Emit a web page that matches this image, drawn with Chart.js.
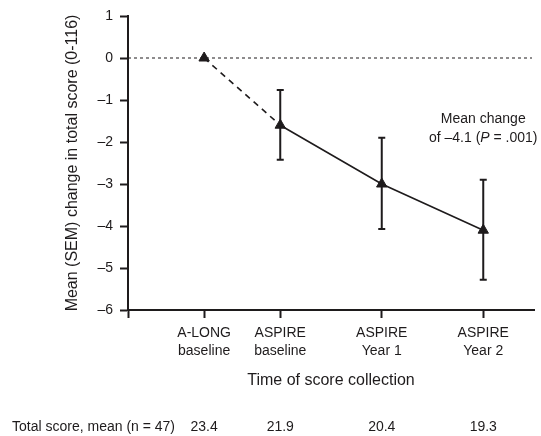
<!DOCTYPE html>
<html>
<head>
<meta charset="utf-8">
<script src="https://cdn.jsdelivr.net/npm/chart.js@4"></script>
<style>
  html, body { margin: 0; padding: 0; background: #fff; }
  #wrap { width: 541px; height: 436px; }
</style>
</head>
<body>
<div id="wrap"><canvas id="changeChart"></canvas></div>
<script>
// time points (years relative to ASPIRE baseline) and their labels
const timeYears = [-0.75, 0, 1, 2];
const timeLabels = [["A-LONG", "baseline"], ["ASPIRE", "baseline"], ["ASPIRE", "Year 1"], ["ASPIRE", "Year 2"]];
const meanChange = [0, -1.6, -3.0, -4.1];
const errLow = [null, -2.42, -4.07, -5.28];
const errHigh = [null, -0.76, -1.9, -2.9];
const totalScores = ["23.4", "21.9", "20.4", "19.3"];
const yTicks = [1, 0, -1, -2, -3, -4, -5, -6];

const ink = "#1e1b1c";
const font = "'Liberation Sans', Arial, sans-serif";
Chart.defaults.font.family = font;
Chart.defaults.color = ink;

const extras = {
    id: "extras",
    beforeDatasetsDraw(chart) {
        const { ctx, chartArea, scales: { x, y } } = chart;
        // dotted reference line at zero
        ctx.save();
        ctx.strokeStyle = ink;
        ctx.lineWidth = 1;
        ctx.setLineDash([3, 3]);
        ctx.beginPath();
        ctx.moveTo(chartArea.left, y.getPixelForValue(0));
        ctx.lineTo(chartArea.right - 2, y.getPixelForValue(0));
        ctx.stroke();
        ctx.restore();
        // error bars
        ctx.save();
        ctx.strokeStyle = ink;
        ctx.lineWidth = 2;
        timeYears.forEach((t, i) => {
            if (errLow[i] === null) return;
            const px = x.getPixelForValue(t);
            const lo = y.getPixelForValue(errLow[i]);
            const hi = y.getPixelForValue(errHigh[i]);
            ctx.beginPath();
            ctx.moveTo(px, lo); ctx.lineTo(px, hi);
            ctx.moveTo(px - 3.5, lo); ctx.lineTo(px + 3.5, lo);
            ctx.moveTo(px - 3.5, hi); ctx.lineTo(px + 3.5, hi);
            ctx.stroke();
        });
        ctx.restore();
    },
    afterDraw(chart) {
        const { ctx, scales: { x, y } } = chart;
        ctx.save();
        ctx.fillStyle = ink;
        ctx.textBaseline = "middle";
        // annotation
        const ax = x.getPixelForValue(timeYears[3]);
        ctx.font = "14px " + font;
        ctx.textAlign = "center";
        ctx.fillText("Mean change", ax, 119);
        const p1 = "of \u20134.1 (", p2 = "P", p3 = " = .001)";
        const w1 = ctx.measureText(p1).width, w3 = ctx.measureText(p3).width;
        ctx.font = "italic 14px " + font;
        const w2 = ctx.measureText(p2).width;
        let sx = ax - (w1 + w2 + w3) / 2;
        ctx.textAlign = "left";
        ctx.font = "14px " + font;
        ctx.fillText(p1, sx, 138);
        ctx.font = "italic 14px " + font;
        ctx.fillText(p2, sx + w1, 138);
        ctx.font = "14px " + font;
        ctx.fillText(p3, sx + w1 + w2, 138);
        // total score row
        ctx.textAlign = "left";
        ctx.fillText("Total score, mean (n = 47)", 12, 427);
        ctx.textAlign = "center";
        timeYears.forEach((t, i) => ctx.fillText(totalScores[i], x.getPixelForValue(t), 427));
        ctx.restore();
    }
};

new Chart(document.getElementById("changeChart"), {
    type: "scatter",
    data: {
        datasets: [{
            data: timeYears.map((t, i) => ({ x: t, y: meanChange[i] })),
            showLine: true,
            borderColor: ink,
            borderWidth: 1.6,
            segment: { borderDash: c => c.p0DataIndex === 0 ? [6, 5] : undefined },
            pointStyle: "triangle",
            pointRadius: 6,
            pointBackgroundColor: ink,
            pointBorderColor: ink,
            pointBorderWidth: 1
        }]
    },
    options: {
        responsive: true,
        maintainAspectRatio: false,
        animation: false,
        layout: { padding: { top: 16, right: 4, left: 0, bottom: 0 } },
        plugins: { legend: { display: false }, tooltip: { enabled: false } },
        scales: {
            x: {
                type: "linear",
                min: -1.5,
                max: 2.5,
                afterBuildTicks: s => { s.ticks = [-1.5].concat(timeYears).map(v => ({ value: v })); },
                afterFit: s => { s.height = 126; },
                grid: { drawOnChartArea: false, tickLength: 8, color: ink, tickWidth: 2 },
                border: { color: ink, width: 2 },
                ticks: {
                    autoSkip: false,
                    maxRotation: 0,
                    padding: 6,
                    font: { size: 14, lineHeight: 1.3 },
                    callback: v => { const i = timeYears.indexOf(v); return i < 0 ? "" : timeLabels[i]; }
                },
                title: {
                    display: true,
                    text: "Time of score collection",
                    font: { size: 16 },
                    padding: { top: 4, bottom: 46 }
                }
            },
            y: {
                min: -6,
                max: 1,
                afterBuildTicks: s => { s.ticks = yTicks.map(v => ({ value: v })); },
                afterFit: s => { s.width = 128; },
                grid: { drawOnChartArea: false, tickLength: 8, color: ink, tickWidth: 2 },
                border: { color: ink, width: 2 },
                ticks: {
                    padding: 7,
                    font: { size: 14 },
                    callback: v => v < 0 ? "\u2013" + Math.abs(v) : String(v)
                },
                title: {
                    display: true,
                    text: "Mean (SEM) change in total score (0-116)",
                    font: { size: 16 },
                    padding: { top: 63, bottom: 0 }
                }
            }
        }
    },
    plugins: [extras]
});
</script>
</body>
</html>
